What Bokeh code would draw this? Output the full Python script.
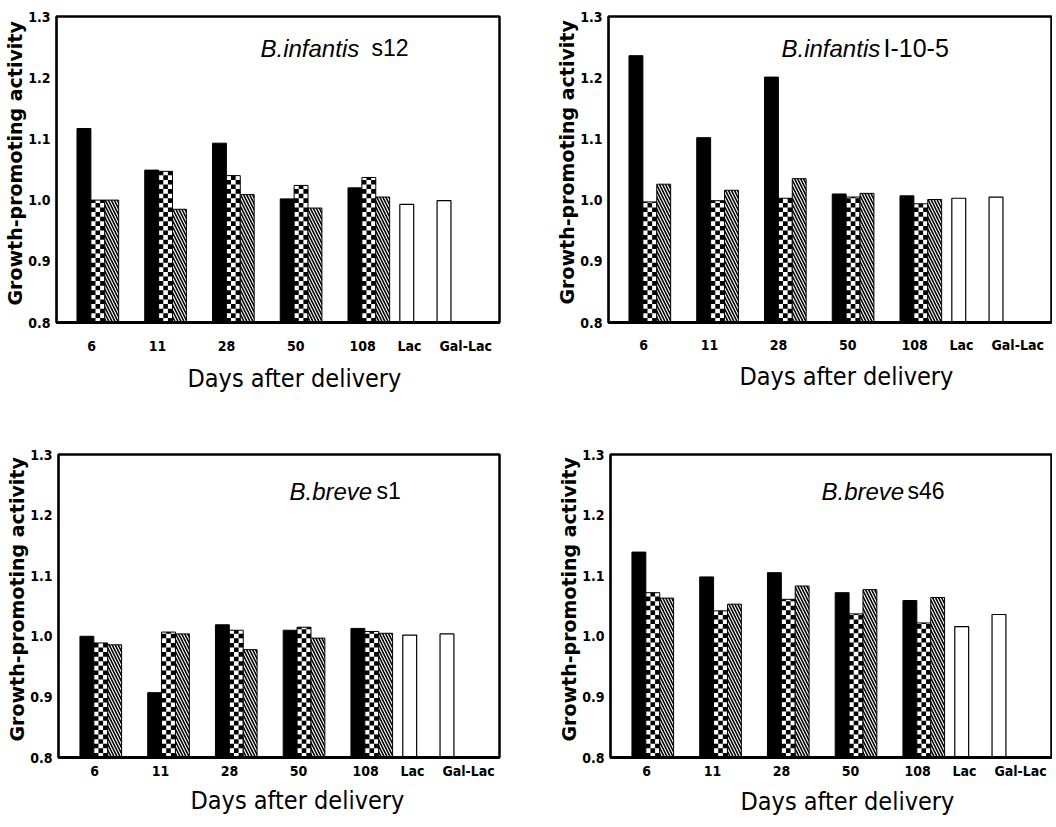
import numpy as np
from bokeh.plotting import figure
from bokeh.layouts import column, row
from bokeh.models import (FixedTicker, Label, Range1d, Title,
                          PrintfTickFormatter, ColumnDataSource)
from bokeh.transform import dodge
from bokeh.embed import file_html
from bokeh.resources import INLINE

# ------------------------------------------------------------------ data
day_categories = ["6", "11", "28", "50", "108"]
control_categories = ["Lac", "Gal-Lac"]
x_tick_labels = day_categories + control_categories
y_ticks = [0.8, 0.9, 1.0, 1.1, 1.2, 1.3]
x_axis_title = "Days after delivery"
y_axis_title = "Growth-promoting activity"

species = ["B.infantis", "B.infantis", "B.breve", "B.breve"]
strains = ["s12", "I-10-5", "s1", "s46"]

infantis_s12_solid = [1.117, 1.049, 1.093, 1.002, 1.020]
infantis_s12_checker = [1.000, 1.047, 1.040, 1.024, 1.037]
infantis_s12_hatched = [1.000, 0.985, 1.009, 0.987, 1.005]
infantis_s12_controls = [0.993, 0.999]

infantis_i105_solid = [1.236, 1.102, 1.201, 1.010, 1.007]
infantis_i105_checker = [0.997, 0.999, 1.003, 1.005, 0.994]
infantis_i105_hatched = [1.026, 1.016, 1.035, 1.011, 1.001]
infantis_i105_controls = [1.003, 1.005]

breve_s1_solid = [1.000, 0.907, 1.019, 1.010, 1.013]
breve_s1_checker = [0.989, 1.007, 1.010, 1.015, 1.008]
breve_s1_hatched = [0.986, 1.004, 0.978, 0.997, 1.005]
breve_s1_controls = [1.002, 1.004]

breve_s46_solid = [1.139, 1.098, 1.105, 1.072, 1.059]
breve_s46_checker = [1.072, 1.042, 1.061, 1.037, 1.022]
breve_s46_hatched = [1.063, 1.053, 1.083, 1.077, 1.064]
breve_s46_controls = [1.016, 1.036]

panel_series = [
    (infantis_s12_solid, infantis_s12_checker, infantis_s12_hatched, infantis_s12_controls),
    (infantis_i105_solid, infantis_i105_checker, infantis_i105_hatched, infantis_i105_controls),
    (breve_s1_solid, breve_s1_checker, breve_s1_hatched, breve_s1_controls),
    (breve_s46_solid, breve_s46_checker, breve_s46_hatched, breve_s46_controls),
]

# ------------------------------------------------------------------ layout
PX_PER_GROUP = 67.75
BAR_W = 0.205
CTRL_POS = [4.56, 5.11]
TICK_POS = [-0.09, 0.88, 1.90, 2.92, 3.91, 4.60, 5.43]
Y0, Y1 = 0.8, 1.3

COND = "'DejaVu Sans Condensed', sans-serif"
SANS = "'Liberation Sans', Arial, sans-serif"
WIDE_BOLD = "'DejaVu Sans', sans-serif"

panels = [
    dict(fig=(1, 1, 529, 419), frame=(57, 17, 500, 325), x0=-0.61,
         sp=(261, 49), strain_x=372, strain_size="23px",
         tick_standoff=15, xt_offset=131, xt_standoff=14, yt_offset=17),
    dict(fig=(530, 1, 523, 419), frame=(609, 15, 1052, 323), x0=-0.61,
         sp=(782, 47), strain_x=884, strain_size="25px",
         tick_standoff=14, xt_offset=131, xt_standoff=12, yt_offset=18),
    dict(fig=(1, 420, 529, 406), frame=(59, 455, 500, 761), x0=-0.624,
         sp=(290, 492), strain_x=377, strain_size="23px",
         tick_standoff=5, xt_offset=132, xt_standoff=8, yt_offset=16),
    dict(fig=(530, 420, 523, 406), frame=(611, 453, 1052, 758), x0=-0.624,
         sp=(822, 490), strain_x=908, strain_size="23px",
         tick_standoff=5, xt_offset=130, xt_standoff=10, yt_offset=16),
]


def make_panel(i):
    g = panels[i]
    fx, fy, fw, fh = g["fig"]
    L, T, R, B = g["frame"]
    x0 = g["x0"]
    x1 = x0 + (R - L) / PX_PER_GROUP
    ppy = (B - T) / (Y1 - Y0)

    def dx(px):
        return x0 + (px - L) / PX_PER_GROUP

    def dy(py):
        return Y0 + (B - py) / ppy

    p = figure(width=fw, height=fh, output_backend="svg", toolbar_location=None,
               x_range=Range1d(x0, x1), y_range=Range1d(Y0, Y1),
               min_border_left=L - fx, min_border_top=T - fy,
               min_border_right=fx + fw - R, min_border_bottom=fy + fh - B)
    p.background_fill_color = "white"
    p.border_fill_color = "white"
    p.outline_line_color = "black"
    p.outline_line_width = 2.5
    p.grid.visible = False

    solid, checker, hatched, ctrl = panel_series[i]
    idx = np.arange(len(day_categories))
    src = ColumnDataSource(dict(x=idx, solid=solid, checker=checker,
                                hatched=hatched, day=day_categories))

    # solid black series
    p.vbar(x=dodge("x", -BAR_W, range=p.x_range), top="solid", bottom=Y0,
           width=BAR_W, source=src, fill_color="black", line_color="black",
           line_width=1)

    # checkerboard series: white bar + black cells derived from the bar value
    p.vbar(x="x", top="checker", bottom=Y0, width=BAR_W, source=src,
           fill_color="white", line_color=None)
    cw = BAR_W / 3.0
    ch = cw * PX_PER_GROUP / ppy
    cl, cr, cb, ct = [], [], [], []
    for xi, top in zip(idx, checker):
        nrows = int(np.ceil((top - Y0) / ch))
        for r in range(nrows):
            b = Y0 + r * ch
            t = min(b + ch, top)
            for c in range(3):
                if (r + c) % 2 == 0:
                    cl.append(xi - BAR_W / 2 + c * cw)
                    cr.append(xi - BAR_W / 2 + (c + 1) * cw)
                    cb.append(b)
                    ct.append(t)
    p.quad(left=cl, right=cr, bottom=cb, top=ct, fill_color="black",
           line_color=None)
    p.vbar(x="x", top="checker", bottom=Y0, width=BAR_W, source=src,
           fill_color=None, line_color="black", line_width=1)

    # diagonal hatched series
    p.vbar(x=dodge("x", BAR_W, range=p.x_range), top="hatched", bottom=Y0,
           width=BAR_W, source=src, fill_color="white", line_color="black",
           line_width=1, hatch_pattern="left_diagonal_line",
           hatch_color="black", hatch_scale=6, hatch_weight=1.6)

    # controls (open bars)
    csrc = ColumnDataSource(dict(x=CTRL_POS, top=ctrl, name=control_categories))
    p.vbar(x="x", top="top", bottom=Y0, width=BAR_W, source=csrc,
           fill_color="white", line_color="black", line_width=1.2)

    # axes
    xa = p.xaxis[0]
    xa.ticker = FixedTicker(ticks=TICK_POS)
    ov = {}
    for pos, lab in zip(TICK_POS, x_tick_labels):
        ov[pos] = lab
        ov[str(pos)] = lab
    xa.major_label_overrides = ov
    xa.major_label_text_font = COND
    xa.major_label_text_font_style = "bold"
    xa.major_label_text_font_size = "14px"
    xa.major_label_text_color = "black"
    xa.major_tick_line_color = None
    xa.minor_tick_line_color = None
    xa.major_tick_out = 0
    xa.major_tick_in = 0
    xa.major_label_standoff = g["tick_standoff"]
    xa.axis_line_width = 3
    xa.axis_line_color = "black"

    ya = p.yaxis[0]
    ya.ticker = FixedTicker(ticks=y_ticks)
    ya.formatter = PrintfTickFormatter(format="%.1f")
    ya.major_label_text_font = COND
    ya.major_label_text_font_style = "bold"
    ya.major_label_text_font_size = "14px"
    ya.major_label_text_color = "black"
    ya.major_tick_line_color = None
    ya.minor_tick_line_color = None
    ya.major_tick_out = 0
    ya.major_tick_in = 0
    ya.major_label_standoff = 6
    ya.axis_line_width = 1.5
    ya.axis_line_color = "black"

    # axis titles as side-panel titles
    p.add_layout(Title(text=x_axis_title, align="left", offset=g["xt_offset"],
                       vertical_align="top", standoff=g["xt_standoff"],
                       text_font=COND, text_font_style="normal",
                       text_font_size="25px", text_color="black"), "below")
    p.add_layout(Title(text=y_axis_title, align="left", offset=g["yt_offset"],
                       vertical_align="bottom", standoff=0,
                       text_font=WIDE_BOLD, text_font_style="bold",
                       text_font_size="19px", text_color="black"), "left")

    # panel titles (inside frame)
    sx, sy = g["sp"]
    p.add_layout(Label(x=dx(sx), y=dy(sy), text=species[i], text_font=SANS,
                       text_font_style="italic", text_font_size="24px",
                       text_baseline="alphabetic", text_align="left",
                       text_color="black"))
    p.add_layout(Label(x=dx(g["strain_x"]), y=dy(sy), text=strains[i],
                       text_font=SANS, text_font_size=g["strain_size"],
                       text_baseline="alphabetic", text_align="left",
                       text_color="black"))
    return p


figs = [make_panel(i) for i in range(4)]
layout = column(row(figs[0], figs[1]), row(figs[2], figs[3]))

open("out.html", "w").write(file_html(layout, INLINE))
